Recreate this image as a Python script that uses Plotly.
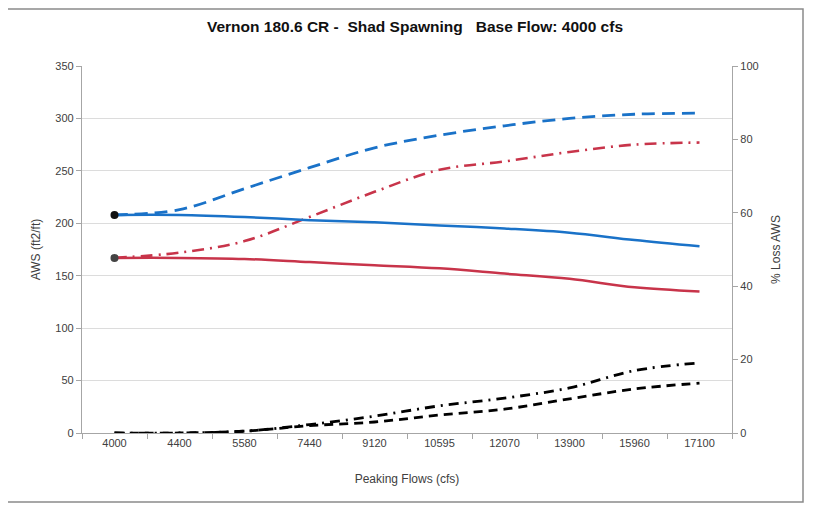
import plotly.graph_objects as go

categories = ["4000", "4400", "5580", "7440", "9120", "10595", "12070", "13900", "15960", "17100"]
aws_blue = [208, 208, 206, 203, 201, 198, 195, 191, 184, 178]
aws_red = [167, 167, 166, 163, 160, 157, 152, 147, 139, 135]
aws_blue_dash = [208, 213, 233, 253, 272, 284, 293, 300, 304, 305]
aws_red_dashdot = [167, 172, 183, 206, 230, 251, 259, 268, 275, 277]
loss_dashed = [0, 0, 0.5, 2.0, 3.0, 4.9, 6.5, 9.3, 12.0, 13.6]
loss_dashdot = [0, 0, 0.5, 2.3, 4.6, 7.4, 9.5, 12.3, 17.0, 19.1]

BLUE = "#1a72c8"
RED = "#c8344a"
FONT = "Liberation Sans, Arial, sans-serif"

fig = go.Figure()

fig.add_trace(go.Scatter(x=categories, y=aws_blue_dash, mode="lines",
                         line=dict(color=BLUE, width=2.8, dash="13px,7px", shape="spline"),
                         showlegend=False))
fig.add_trace(go.Scatter(x=categories, y=aws_red_dashdot, mode="lines",
                         line=dict(color=RED, width=2.6, dash="12px,6px,2px,6px", shape="spline"),
                         showlegend=False))
fig.add_trace(go.Scatter(x=categories, y=aws_blue, mode="lines",
                         line=dict(color=BLUE, width=2.5, shape="spline"),
                         showlegend=False))
fig.add_trace(go.Scatter(x=categories, y=aws_red, mode="lines",
                         line=dict(color=RED, width=2.5, shape="spline"),
                         showlegend=False))
fig.add_trace(go.Scatter(x=[categories[0]], y=[aws_blue[0]], mode="markers",
                         marker=dict(color="#111111", size=8), showlegend=False))
fig.add_trace(go.Scatter(x=[categories[0]], y=[aws_red[0]], mode="markers",
                         marker=dict(color="#444444", size=8), showlegend=False))
fig.add_trace(go.Scatter(x=categories, y=loss_dashed, mode="lines", yaxis="y2",
                         line=dict(color="#000000", width=2.8, dash="9px,6px", shape="spline"),
                         showlegend=False))
fig.add_trace(go.Scatter(x=categories, y=loss_dashdot, mode="lines", yaxis="y2",
                         line=dict(color="#000000", width=2.8, dash="10px,6px,2px,6px", shape="spline"),
                         showlegend=False))

fig.update_layout(
    width=810, height=497,
    margin=dict(l=74, r=86, t=58, b=72),
    paper_bgcolor="white", plot_bgcolor="white",
    font=dict(family=FONT, size=11, color="#404040"),
    title=dict(text="<b>Vernon 180.6 CR -  Shad Spawning   Base Flow: 4000 cfs</b>",
               x=(415 - 8) / 810, xanchor="center", y=1 - (27 - 8) / 497, yanchor="middle",
               font=dict(family=FONT, size=15.5, color="#111111")),
    xaxis=dict(type="category", title=dict(text="Peaking Flows (cfs)", font=dict(size=12), standoff=26),
               showline=True, linecolor="#a6a6a6", linewidth=1.2, mirror=False,
               ticks="outside", tickson="boundaries", ticklen=5, tickcolor="#a6a6a6",
               showgrid=False, tickfont=dict(size=11), range=[-0.5, 9.5]),
    yaxis=dict(range=[0, 350], dtick=50, title=dict(text="AWS (ft2/ft)", font=dict(size=12), standoff=12),
               showline=True, linecolor="#a6a6a6", linewidth=1.2,
               ticks="outside", ticklen=5, tickcolor="#a6a6a6",
               showgrid=True, gridcolor="#dcdcdc", gridwidth=1, zeroline=False,
               tickfont=dict(size=11)),
    yaxis2=dict(range=[0, 100], dtick=20, overlaying="y", side="right",
                title=dict(text="% Loss AWS", font=dict(size=12), standoff=13),
                showline=True, linecolor="#a6a6a6", linewidth=1.2,
                ticks="outside", ticklen=5, tickcolor="#a6a6a6",
                showgrid=False, zeroline=False, tickfont=dict(size=11)),
    shapes=[dict(type="rect", xref="paper", yref="paper",
                 x0=(7 - 82) / 650, x1=(803 - 82) / 650, y0=-(502 - 433) / 367, y1=(433 - 9) / 367,
                 line=dict(color="#8a8a8a", width=1.5), layer="below")],
)

fig.write_html("out.html")
